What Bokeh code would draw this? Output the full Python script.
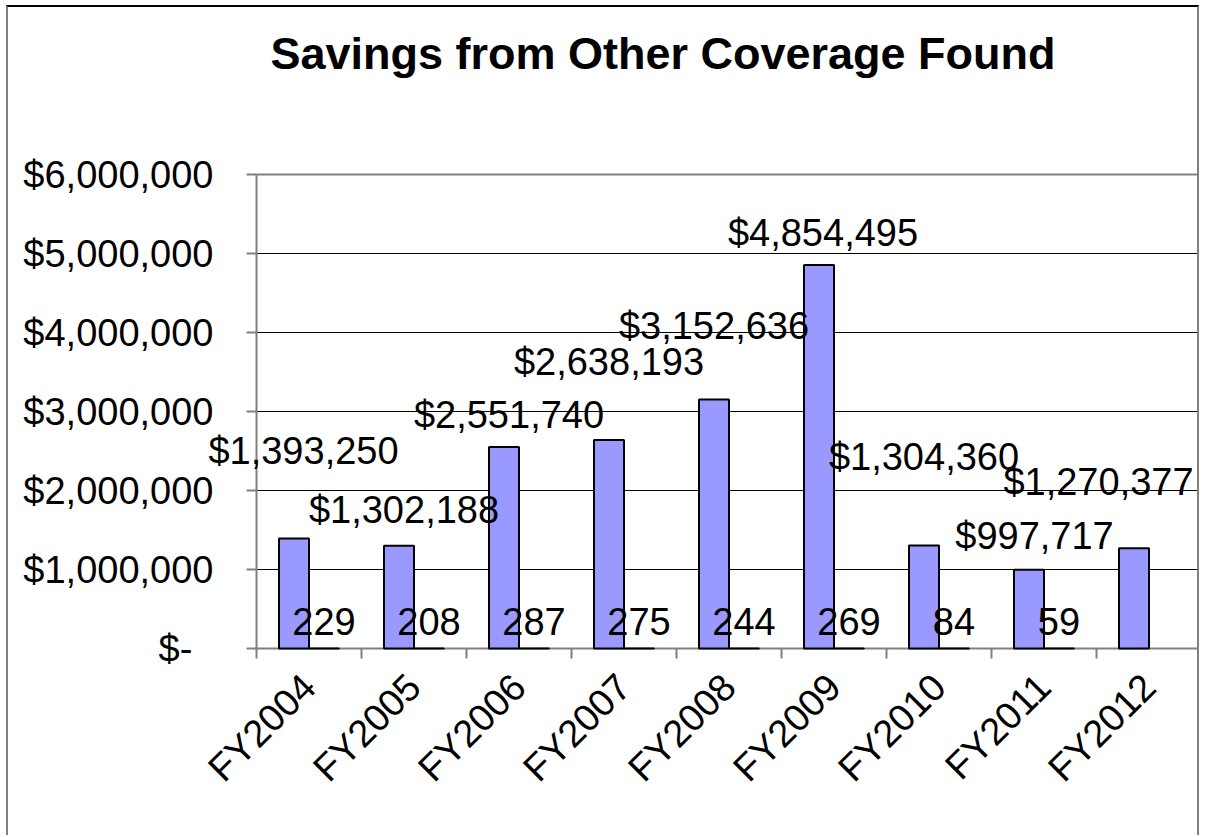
import math
from bokeh.plotting import figure
from bokeh.models import (ColumnDataSource, Range1d, FixedTicker, LabelSet, Label,
                          LinearAxis)
from bokeh.core.properties import value
from bokeh.embed import file_html
from bokeh.resources import INLINE

# ---- data ----
years = ["FY2004", "FY2005", "FY2006", "FY2007", "FY2008", "FY2009", "FY2010", "FY2011", "FY2012"]
savings = [1393250, 1302188, 2551740, 2638193, 3152636, 4854495, 1304360, 997717, 1270377]
counts = [229, 208, 287, 275, 244, 269, 84, 59, float("nan")]
savings_labels = ["$1,393,250", "$1,302,188", "$2,551,740", "$2,638,193", "$3,152,636",
                  "$4,854,495", "$1,304,360", "$997,717", "$1,270,377"]
count_labels = ["229", "208", "287", "275", "244", "269", "84", "59", ""]
y_ticks = [0, 1000000, 2000000, 3000000, 4000000, 5000000, 6000000]
y_tick_labels = ["$-\u00a0\u00a0", "$1,000,000", "$2,000,000", "$3,000,000",
                 "$4,000,000", "$5,000,000", "$6,000,000"]
title_text = "Savings from Other Coverage Found"

# label placement (screen pixel offsets, style only)
label_dx = [9.5, 5, 5, 0, 0, 4, 0, 5.5, -35.5]
label_dy = [74.6, 22.4, 18.7, 65, 60, 19, 75, 21, 53.6]

FONT = "Liberation Sans"
BLUE = "#9999FF"
GREY = "#808080"
FS = "38px"

# ---- layout (page pixels) ----
CONTENT_X0, CONTENT_Y0 = 8, 7         # page offset of figure content (css margin + border)
AXIS_X = 256                          # page x of category axis start
CAT_W = 105                           # px per category
FRAME_LEFT = 10                       # page x of frame left
FRAME_TOP = 12                        # page y of frame top
BASE_Y = 648                          # page y of zero line
TOP_Y = 174                           # page y of max tick
W, H = 1193, 830
FRAME_BOTTOM = CONTENT_Y0 + H         # page y of frame bottom
PX_PER_UNIT_Y = (BASE_Y - TOP_Y) / y_ticks[-1]

n = len(years)
bar_w = 30 / CAT_W
idx = list(range(n))
x_sav = [i + 22.5 / CAT_W + bar_w / 2 for i in idx]
x_cnt = [i + 22.5 / CAT_W + bar_w * 1.5 for i in idx]

x_start = (FRAME_LEFT - AXIS_X) / CAT_W
y_end = (BASE_Y - FRAME_TOP) / PX_PER_UNIT_Y
y_start = -(FRAME_BOTTOM - BASE_Y) / PX_PER_UNIT_Y

p = figure(width=W, height=H, output_backend="svg", toolbar_location=None,
           x_range=Range1d(x_start, n), y_range=Range1d(y_start, y_end),
           min_border_left=FRAME_LEFT - CONTENT_X0, min_border_right=0,
           min_border_top=FRAME_TOP - CONTENT_Y0, min_border_bottom=0,
           x_axis_type=None, y_axis_type=None,
           background_fill_color="white", border_fill_color="white")
p.styles = {"margin-left": "6px", "margin-top": "5px",
            "border-top": "2px solid black", "border-left": "2px solid #808080",
            "border-right": "2px solid #808080"}
p.outline_line_color = None
p.xgrid.visible = False
p.ygrid.visible = False

# y axis, fixed at the category-axis origin
yax = LinearAxis(ticker=FixedTicker(ticks=y_ticks, minor_ticks=[]),
                 fixed_location=0, bounds=(y_ticks[0], y_ticks[-1]))
yax.major_label_overrides = {t: l for t, l in zip(y_ticks, y_tick_labels)}
yax.axis_line_color = GREY
yax.axis_line_width = 2
yax.major_tick_line_color = GREY
yax.major_tick_line_width = 2
yax.major_tick_out = 10
yax.major_tick_in = 0
yax.minor_tick_line_color = None
yax.major_label_standoff = 33
yax.major_label_text_font = FONT
yax.major_label_text_font_size = FS
yax.major_label_text_color = "black"
p.add_layout(yax, "left")

# x axis at zero: ticks at category boundaries, labels at centres
centres = [i + 0.5 for i in idx]
xax = LinearAxis(ticker=FixedTicker(ticks=centres, minor_ticks=list(range(n + 1))),
                 fixed_location=0, bounds=(0, n))
xax.major_label_overrides = {c: y for c, y in zip(centres, years)}
xax.axis_line_color = GREY
xax.axis_line_width = 2
xax.major_tick_line_color = None
xax.major_tick_out = 0
xax.major_tick_in = 0
xax.minor_tick_line_color = GREY
xax.minor_tick_line_width = 2
xax.minor_tick_out = 10
xax.minor_tick_in = 0
xax.major_label_orientation = math.pi / 4
xax.major_label_standoff = 22
xax.major_label_text_font = FONT
xax.major_label_text_font_size = FS
xax.major_label_text_color = "black"
p.add_layout(xax, "below")

# gridlines and plot-area top edge
grid_y = y_ticks[1:-1]
p.segment(x0=[0] * len(grid_y), x1=[n] * len(grid_y), y0=grid_y, y1=grid_y,
          line_color="black", line_width=1)
p.segment(x0=[0], x1=[n], y0=[y_ticks[-1]], y1=[y_ticks[-1]],
          line_color=GREY, line_width=2)

src = ColumnDataSource(dict(x_sav=x_sav, x_cnt=x_cnt, savings=savings, counts=counts,
                            slab=savings_labels, clab=count_labels,
                            dx=label_dx, dy=label_dy))

p.vbar(x="x_sav", top="savings", bottom=0, width=bar_w, source=src,
       fill_color=BLUE, line_color="black", line_width=2, level="annotation")
p.vbar(x="x_cnt", top="counts", bottom=0, width=bar_w, source=src,
       fill_color="#993366", line_color="black", line_width=2, level="annotation")

p.add_layout(LabelSet(x="x_sav", y="savings", text="slab", x_offset="dx", y_offset="dy",
                      source=src, text_align="center", text_baseline="alphabetic",
                      text_font=value(FONT), text_font_size=value(FS), text_color="black"))
p.add_layout(LabelSet(x="x_cnt", y="counts", text="clab", y_offset=13,
                      source=src, text_align="center", text_baseline="alphabetic",
                      text_font=value(FONT), text_font_size=value(FS), text_color="black"))

p.add_layout(Label(x=662.5 - FRAME_LEFT, y=FRAME_BOTTOM - 70 + 17,
                   x_units="screen", y_units="screen",
                   text=title_text, text_align="center", text_baseline="alphabetic",
                   text_font=FONT, text_font_size="45px", text_font_style="bold",
                   text_color="black"))

open("out.html", "w").write(file_html(p, INLINE))
